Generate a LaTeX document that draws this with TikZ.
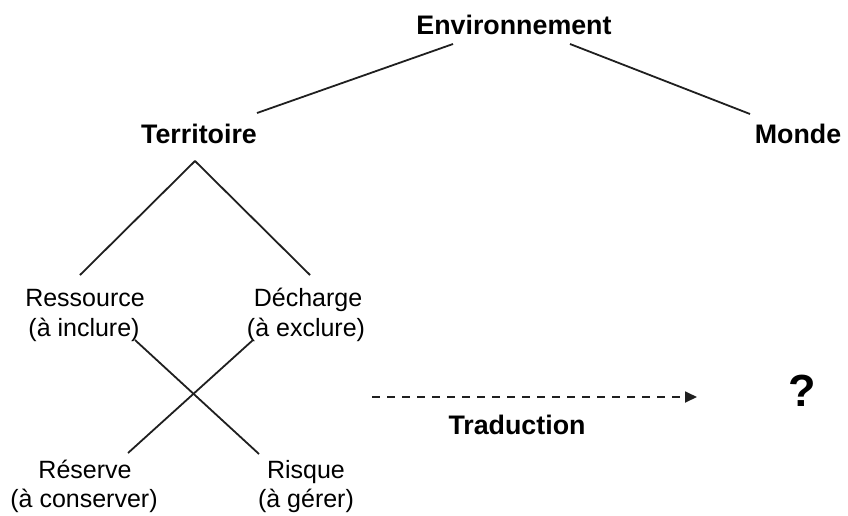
\documentclass[tikz,border=0pt]{standalone}
\usepackage{fontspec}
\setmainfont{Liberation Sans}
\usetikzlibrary{arrows.meta}
\begin{document}
\begin{tikzpicture}[x=1pt,y=-1pt,
  bold/.style={inner sep=0pt,anchor=base,font=\fontsize{26.8}{30}\selectfont\bfseries},
  reg/.style={inner sep=0pt,anchor=base,font=\fontsize{25}{30}\selectfont},
  link/.style={line width=1.8pt,color=black!88},
  transl/.style={line width=1.8pt,color=black!88,dash pattern=on 8pt off 7pt,-{Triangle[length=12pt,width=11pt]}}]
\useasboundingbox (0,0) rectangle (848,515);
% nodes
\node[bold] (env) at (514,34) {Environnement};
\node[bold] (terr) at (199,143) {Territoire};
\node[bold] (monde) at (798,143) {Monde};
\node[reg] (res) at (85,306) {Ressource};
\node[reg] (resb) at (84,336) {(à inclure)};
\node[reg] (dec) at (308,306) {Décharge};
\node[reg] (decb) at (306,336) {(à exclure)};
\node[reg] (rsv) at (85,478) {Réserve};
\node[reg] (rsvb) at (84,507) {(à conserver)};
\node[reg] (ris) at (306,478) {Risque};
\node[reg] (risb) at (306,507) {(à gérer)};
\node[bold] (trad) at (517,434) {Traduction};
\node[inner sep=0pt,anchor=base,font=\fontsize{45}{48}\selectfont\bfseries] (q) at (802,406) {?};
% connector ends
\coordinate (envL) at (453,44);
\coordinate (envR) at (570,44);
\coordinate (terrT) at (257,113);
\coordinate (mondeT) at (750,114);
\coordinate (apex) at (195,161);
\coordinate (resT) at (80,275);
\coordinate (decT) at (310,275);
\coordinate (resE) at (135,340);
\coordinate (risT) at (259,454);
\coordinate (decE) at (253,340);
\coordinate (rsvT) at (128,453);
\coordinate (aS) at (372,397);
\coordinate (aE) at (697,397);
% connectors
\draw[link] (envL) -- (terrT);
\draw[link] (envR) -- (mondeT);
\draw[link,line join=round] (resT) -- (apex) -- (decT);
\draw[link] (resE) -- (risT);
\draw[link] (decE) -- (rsvT);
\draw[transl] (aS) -- (aE);
\end{tikzpicture}
\end{document}
